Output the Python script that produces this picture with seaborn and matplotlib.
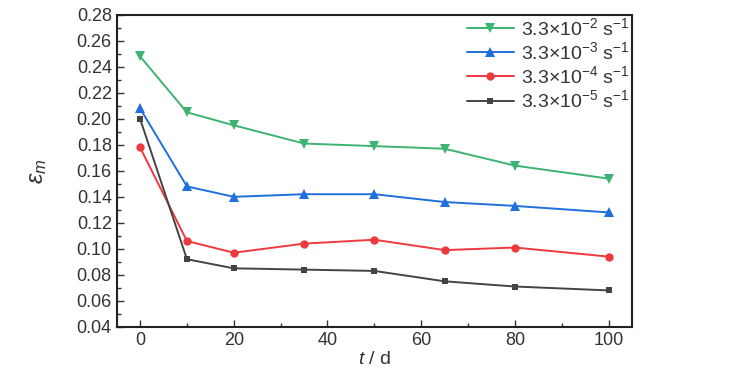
import pandas as pd
import seaborn as sns
import matplotlib.pyplot as plt
from matplotlib.ticker import MultipleLocator

sns.set_style("ticks")
plt.rcParams["font.family"] = ["Liberation Sans", "DejaVu Sans"]
plt.rcParams["mathtext.fontset"] = "custom"
plt.rcParams["mathtext.rm"] = "Liberation Sans"
plt.rcParams["mathtext.it"] = "Liberation Sans:italic"

days = [0, 10, 20, 35, 50, 65, 80, 100]
rate_labels = [
    r"3.3×10$^{-2}$ s$^{-1}$",
    r"3.3×10$^{-3}$ s$^{-1}$",
    r"3.3×10$^{-4}$ s$^{-1}$",
    r"3.3×10$^{-5}$ s$^{-1}$",
]
strain_e2 = [0.248, 0.205, 0.195, 0.181, 0.179, 0.177, 0.164, 0.154]
strain_e3 = [0.208, 0.148, 0.140, 0.142, 0.142, 0.136, 0.133, 0.128]
strain_e4 = [0.178, 0.106, 0.097, 0.104, 0.107, 0.099, 0.101, 0.094]
strain_e5 = [0.200, 0.092, 0.085, 0.084, 0.083, 0.075, 0.071, 0.068]

colors = ["#3cb371", "#1f6fdc", "#ee3a3f", "#444444"]
markers = ["v", "^", "o", "s"]
msizes = [7.5, 7.5, 6, 5]

frames = []
for lab, vals in zip(rate_labels, [strain_e2, strain_e3, strain_e4, strain_e5]):
    frames.append(pd.DataFrame({"t": days, "eps": vals, "rate": lab}))
df = pd.concat(frames, ignore_index=True)

fig = plt.figure(figsize=(7.29, 3.9), dpi=100)
ax = fig.add_axes([0.160, 0.162, 0.707, 0.800])

for lab, c, m, ms in zip(rate_labels, colors, markers, msizes):
    sub = df[df["rate"] == lab]
    sns.lineplot(data=sub, x="t", y="eps", ax=ax, color=c, marker=m,
                 markersize=ms, markeredgewidth=0, linewidth=1.4, label=lab)

ax.set_xlim(-5, 105)
ax.set_ylim(0.04, 0.28)
ax.xaxis.set_major_locator(MultipleLocator(20))
ax.xaxis.set_minor_locator(MultipleLocator(10))
ax.yaxis.set_major_locator(MultipleLocator(0.02))
ax.yaxis.set_minor_locator(MultipleLocator(0.01))
ax.yaxis.set_major_formatter(plt.FuncFormatter(lambda v, p: f"{v:.2f}"))
ax.tick_params(which="both", direction="in", top=False, right=False,
               labelsize=13, colors="#333333", labelcolor="#333333")
ax.tick_params(which="major", length=5, width=1)
ax.tick_params(which="minor", length=3, width=1)
for s in ax.spines.values():
    s.set_linewidth(1.5)
    s.set_color("#222222")

ax.set_xlabel(r"$\mathit{t}$ / d", fontsize=14, color="#333333", labelpad=2)
ax.set_ylabel(r"$\mathit{ε}_{\mathit{m}}$", fontsize=17, color="#333333", labelpad=20)

leg = ax.legend(loc="upper right", frameon=False, fontsize=14,
                borderaxespad=0.0, borderpad=0.1, handlelength=2.4,
                handletextpad=0.4, labelspacing=0.12)
for t in leg.get_texts():
    t.set_color("#333333")

fig.savefig("out.png", dpi=100)
